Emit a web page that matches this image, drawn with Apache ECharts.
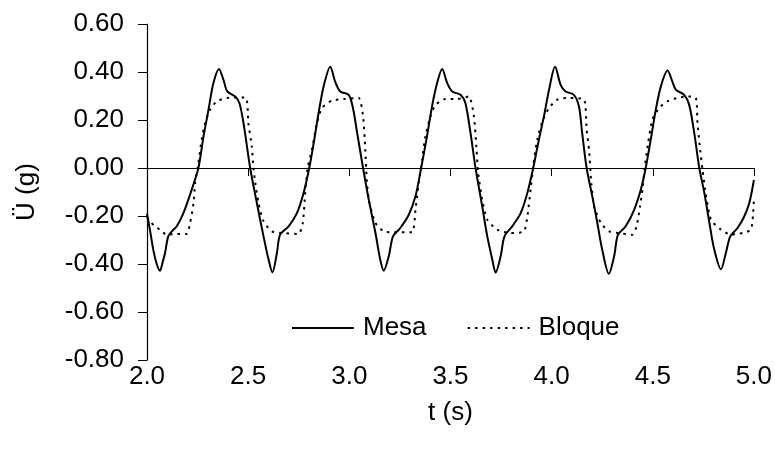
<!DOCTYPE html>
<html>
<head>
<meta charset="utf-8">
<script src="https://cdn.jsdelivr.net/npm/echarts@6/dist/echarts.min.js"></script>
<style>html,body{margin:0;padding:0;background:#fff}#c{width:775px;height:466px}</style>
</head>
<body>
<div id="c"></div>
<script>
var xTicks = [2.0, 2.5, 3.0, 3.5, 4.0, 4.5, 5.0];
var yTicks = [-0.8, -0.6, -0.4, -0.2, 0.0, 0.2, 0.4, 0.6];

var mesaT = [2.000,2.015,2.031,2.048,2.064,2.078,2.089,2.105,2.125,2.147,2.18,2.221,2.254,2.279,2.304,2.328,2.356,2.378,2.397,2.436,2.457,2.477,2.51,2.543,2.576,2.601,2.62,2.642,2.658,2.7,2.741,2.774,2.802,2.824,2.848,2.873,2.906,2.93,2.955,2.997,3.018,3.038,3.068,3.096,3.129,3.153,3.17,3.195,3.216,3.252,3.294,3.327,3.355,3.384,3.409,3.434,3.459,3.484,3.509,3.55,3.574,3.599,3.624,3.657,3.682,3.707,3.723,3.748,3.767,3.805,3.847,3.88,3.909,3.937,3.962,3.987,4.017,4.045,4.069,4.11,4.135,4.151,4.173,4.201,4.226,4.25,4.283,4.309,4.328,4.366,4.408,4.441,4.465,4.49,4.515,4.54,4.573,4.597,4.614,4.655,4.68,4.705,4.73,4.755,4.78,4.804,4.837,4.861,4.883,4.919,4.952,4.977,5.0];
var mesaV = [-0.19,-0.26,-0.34,-0.40,-0.428,-0.39,-0.355,-0.285,-0.262,-0.243,-0.188,-0.09,0.0,0.13,0.243,0.353,0.413,0.367,0.319,0.298,0.27,0.187,0.0,-0.146,-0.285,-0.382,-0.435,-0.355,-0.278,-0.243,-0.188,-0.104,0.0,0.104,0.229,0.34,0.422,0.36,0.319,0.305,0.25,0.15,0.0,-0.132,-0.27,-0.382,-0.428,-0.368,-0.285,-0.25,-0.195,-0.118,0.0,0.132,0.257,0.354,0.413,0.354,0.319,0.305,0.27,0.146,0.0,-0.16,-0.285,-0.382,-0.436,-0.368,-0.285,-0.243,-0.188,-0.104,0.0,0.118,0.215,0.325,0.422,0.345,0.319,0.305,0.257,0.146,0.0,-0.118,-0.229,-0.34,-0.441,-0.368,-0.278,-0.243,-0.174,-0.09,0.0,0.118,0.243,0.34,0.406,0.36,0.326,0.305,0.263,0.146,0.0,-0.104,-0.229,-0.34,-0.422,-0.355,-0.285,-0.25,-0.202,-0.146,-0.05];

var bloqueT = [2.000,2.012,2.035,2.064,2.097,2.139,2.196,2.213,2.23,2.238,2.254,2.27,2.287,2.312,2.345,2.394,2.443,2.49,2.501,2.518,2.526,2.535,2.551,2.576,2.617,2.675,2.749,2.77,2.782,2.794,2.815,2.84,2.865,2.914,2.972,3.046,3.068,3.079,3.087,3.1,3.129,3.17,3.22,3.31,3.327,3.343,3.36,3.376,3.401,3.426,3.475,3.533,3.591,3.616,3.629,3.637,3.657,3.682,3.731,3.797,3.863,3.88,3.896,3.913,3.929,3.954,3.987,4.028,4.086,4.16,4.173,4.185,4.196,4.21,4.243,4.284,4.333,4.399,4.42,4.437,4.449,4.46,4.477,4.498,4.531,4.573,4.622,4.672,4.713,4.721,4.734,4.746,4.759,4.787,4.837,4.886,4.944,4.985,4.995,5.0];
var bloqueV = [-0.205,-0.22,-0.24,-0.257,-0.278,-0.275,-0.275,-0.229,-0.146,-0.06,0.02,0.118,0.187,0.243,0.278,0.292,0.294,0.292,0.187,0.09,0.0,-0.06,-0.146,-0.222,-0.264,-0.271,-0.275,-0.23,-0.104,0.0,0.076,0.187,0.25,0.281,0.287,0.292,0.215,0.076,-0.063,-0.146,-0.229,-0.264,-0.268,-0.268,-0.174,-0.063,0.035,0.132,0.215,0.263,0.287,0.287,0.298,0.215,0.076,-0.021,-0.132,-0.215,-0.257,-0.271,-0.264,-0.202,-0.09,0.035,0.118,0.194,0.25,0.285,0.292,0.285,0.16,0.076,-0.063,-0.16,-0.229,-0.264,-0.271,-0.278,-0.243,-0.16,-0.09,0.0,0.104,0.201,0.25,0.278,0.292,0.298,0.292,0.187,0.076,-0.007,-0.09,-0.215,-0.257,-0.278,-0.271,-0.257,-0.2,-0.13];

function pairs(t, v) { return t.map(function (x, i) { return [x, v[i]]; }); }

var FONT = 'Liberation Sans, Arial, sans-serif';
var FS = 26;
var chart = echarts.init(document.getElementById('c'), null, {renderer: 'canvas'});
chart.setOption({
  animation: false,
  backgroundColor: '#ffffff',
  grid: {left: 147, right: 21, top: 24, bottom: 106, containLabel: false},
  legend: {
    left: 291, top: 315, padding: 0, itemGap: 40,
    itemWidth: 62, itemHeight: 14,
    itemStyle: {opacity: 0},
    textStyle: {fontFamily: FONT, fontSize: FS, color: '#000', padding: [0, 0, 0, 4]},
    data: ['Mesa', 'Bloque']
  },
  xAxis: [{
    type: 'value', min: xTicks[0], max: xTicks[xTicks.length - 1], interval: 0.5,
    position: 'bottom',
    axisLine: {onZero: true, lineStyle: {color: '#000', width: 1.2}},
    axisTick: {show: true, inside: false, length: 8, lineStyle: {color: '#000', width: 1}},
    axisLabel: {show: false},
    splitLine: {show: false}
  }, {
    type: 'value', min: xTicks[0], max: xTicks[xTicks.length - 1], interval: 0.5,
    position: 'bottom',
    axisLine: {show: false, onZero: false},
    axisTick: {show: false},
    axisLabel: {show: true, margin: 4, fontFamily: FONT, fontSize: FS, color: '#000',
      formatter: function (v) { return v.toFixed(1); }},
    splitLine: {show: false},
    name: 't (s)', nameLocation: 'middle', nameGap: 40,
    nameTextStyle: {fontFamily: FONT, fontSize: FS, color: '#000'}
  }],
  yAxis: {
    type: 'value', min: yTicks[0], max: yTicks[yTicks.length - 1], interval: 0.2,
    axisLine: {show: true, lineStyle: {color: '#000', width: 1.2}},
    axisTick: {show: true, inside: false, length: 9, lineStyle: {color: '#000', width: 1}},
    axisLabel: {margin: 23, fontFamily: FONT, fontSize: FS, color: '#000',
      formatter: function (v) { return v.toFixed(2); }},
    splitLine: {show: false},
    name: 'Ü (g)', nameLocation: 'middle', nameGap: 107, nameRotate: 90,
    nameTextStyle: {fontFamily: FONT, fontSize: FS, color: '#000'}
  },
  series: [{
    name: 'Mesa', type: 'line', xAxisIndex: 0, symbol: 'none', showSymbol: false,
    smooth: 0.3,
    lineStyle: {color: '#000', width: 2, type: 'solid'},
    itemStyle: {color: '#000'},
    data: pairs(mesaT, mesaV)
  }, {
    name: 'Bloque', type: 'line', xAxisIndex: 0, symbol: 'none', showSymbol: false,
    smooth: 0.2,
    lineStyle: {color: '#000', width: 2, type: [2.5, 5]},
    itemStyle: {color: '#000'},
    data: pairs(bloqueT, bloqueV)
  }]
});
</script>
</body>
</html>
